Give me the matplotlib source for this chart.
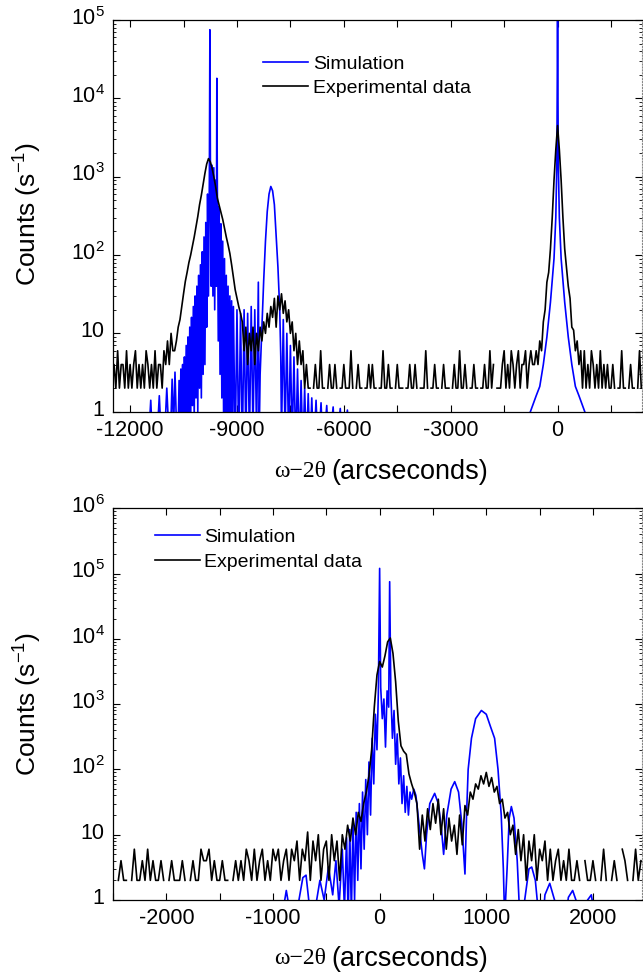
import numpy as np
import matplotlib
matplotlib.use("Agg")
import matplotlib.pyplot as plt
import matplotlib.transforms as mtransforms
from matplotlib.ticker import MultipleLocator, LogLocator, FixedLocator, FixedFormatter, NullFormatter

plt.rcParams['font.family'] = ['Liberation Sans', 'DejaVu Sans']
plt.rcParams['mathtext.fontset'] = 'custom'
plt.rcParams['mathtext.rm'] = 'Liberation Sans'
plt.rcParams['mathtext.it'] = 'Liberation Sans:italic'
plt.rcParams['mathtext.default'] = 'regular'
plt.rcParams['axes.unicode_minus'] = False

# ---- wide scan: measured counts, one point every 50 arcsec starting at -12500
exp_top_start = -12500
exp_top_step = 50
exp_top = [
    # -12500 .. -10800 background
    2, 4, 2, 6, 2, 4, 4, 2, 6, 2, 4, 2, 4, 6, 2, 4, 2, 4, 2, 6,
    4, 2, 4, 2, 6, 2, 4, 4, 2, 6, 4, 8, 4, 10, 6,
    # -10750 .. -8900 substrate-side peak
    6, 8, 12, 15, 22, 32, 46, 60, 80, 100, 130, 170, 230, 310, 440, 580, 800, 1100, 1450, 1700,
    1550, 1300, 1000, 750, 530, 430, 350, 285, 220, 170, 135, 105, 75, 52, 36, 28, 22, 18,
    # -8850 .. -8350
    14, 6, 12, 4, 10, 6, 12, 4, 10, 6, 12,
    # -8300 .. -7150 layer peak
    8, 14, 10, 18, 12, 22, 16, 28, 12, 30, 20, 32, 18, 26, 14, 20, 10, 14, 6, 10, 4, 8, 4, 6,
    # -7100 .. -1650 background
    2, 4, 2, 2, 0, 2, 4, 2, 2, 6,
    2, 2, 0, 2, 4, 2, 2, 4, 2, 0,
    2, 2, 4, 2, 2, 2, 6, 2, 0, 2,
    4, 2, 2, 0, 2, 2, 4, 2, 4, 2,
    2, 0, 2, 2, 6, 2, 2, 4, 2, 2,
    0, 2, 4, 2, 2, 2, 0, 2, 2, 4,
    2, 2, 4, 2, 0, 2, 2, 2, 6, 2,
    0, 2, 2, 4, 2, 2, 0, 2, 4, 2,
    2, 2, 0, 2, 4, 2, 2, 6, 2, 2,
    4, 2, 0, 2, 2, 4, 2, 2, 0, 2,
    2, 4, 2, 2, 6, 2, 4, 0, 2, 2,
    # -1600 .. -700
    2, 4, 6, 2, 4, 2, 6, 4, 2, 4, 6, 2, 4, 4, 6, 2, 4, 6, 4,
    # -650 .. 650 reference peak
    4, 6, 4, 8, 6, 14, 20, 45, 60, 120, 300, 900, 2200, 4500, 2200, 900, 300, 120, 70, 40,
    28, 12, 11, 6, 8, 4, 6,
    # 700 .. 1400
    2, 6, 2, 4, 2, 6, 4, 2, 4, 2, 6, 2, 4, 2, 4,
    # 1450 .. 2350
    2, 2, 4, 2, 0, 2, 2, 6, 2, 2, 0, 2, 4, 2, 2, 0, 2, 6, 2,
]

sim_top_x = [
    -12500, -11500, -11420, -11360, -11250, -11180, -11120, -11030, -10970, -10910,
    -10860, -10820, -10780, -10740, -10700,
    -10650, -10625, -10600, -10575, -10550, -10525, -10500, -10475, -10450, -10425,
    -10400, -10375, -10350, -10325, -10300, -10275, -10250, -10225, -10200, -10175,
    -10150, -10125, -10100, -10075, -10050, -10025, -10000, -9975, -9950, -9925,
    -9900, -9875, -9850, -9825, -9800, -9775, -9760, -9745, -9725, -9700,
    -9675, -9650, -9625, -9600, -9580, -9565, -9550, -9525, -9500, -9475,
    -9450, -9425, -9400, -9375, -9350, -9325, -9300, -9275, -9250, -9225,
    -9200, -9175, -9150, -9125, -9100,
    -9050, -9000, -8950, -8900, -8850, -8800, -8750, -8700, -8650, -8600,
    -8550, -8500, -8450, -8400, -8375,
    -8350, -8300, -8250, -8200, -8150, -8100, -8050, -8000, -7950, -7900,
    -7850, -7800, -7770, -7750,
    -7700, -7650, -7600, -7550, -7500, -7450, -7400, -7350, -7300, -7250,
    -7200, -7150, -7100, -7050, -7000, -6950, -6900, -6850, -6780, -6720,
    -6640, -6580, -6480, -6420, -6300, -6240, -6100, -6040, -5900, -5850,
    -1000, -800, -700, -600, -500, -400, -300, -200, -100, -50,
    -20, -8, 0, 8, 20, 50, 100, 200, 300, 400,
    500, 600, 700, 800, 1000, 2400,
]
sim_top_y = [
    0.2, 0.3, 1.4, 0.3, 0.4, 1.6, 0.4, 0.5, 2.0, 0.5,
    0.6, 2.6, 0.6, 3.2, 0.7,
    0.6, 2.5, 0.5, 3.5, 0.7, 4, 0.5, 5, 0.8, 7,
    0.6, 9, 1, 12, 0.7, 16, 1.2, 22, 0.8, 30,
    1.5, 40, 1, 55, 2, 75, 1.5, 110, 3, 170,
    4, 260, 12, 600, 30, 900, 75000, 1200, 40, 1400,
    30, 1300, 20, 900, 40, 18000, 600, 8, 420, 3,
    250, 1.5, 150, 0.8, 90, 0.6, 55, 0.5, 40, 0.4,
    30, 0.4, 26, 0.3, 22,
    0.3, 20, 0.3, 18, 0.3, 20, 0.4, 18, 0.4, 22,
    0.5, 20, 0.5, 45, 0.5,
    3, 12, 47, 150, 360, 600, 750, 660, 440, 180,
    70, 20, 5, 0.5,
    15, 0.5, 10, 0.4, 7, 0.4, 5, 0.3, 3.5, 0.3,
    2.5, 0.3, 2, 0.3, 1.7, 0.3, 1.5, 0.3, 1.4, 0.3,
    1.3, 0.3, 1.2, 0.3, 1.15, 0.3, 1.1, 0.3, 1.05, 0.3,
    0.3, 0.9, 1.2, 1.6, 2.1, 4, 9, 25, 90, 300,
    1500, 20000, 300000, 20000, 1500, 300, 90, 25, 9, 4,
    2.1, 1.6, 1.2, 0.9, 0.3, 0.1,
]

# ---- narrow scan: measured counts, one point every 25 arcsec starting at -2450
exp_bot_start = -2450
exp_bot_step = 25
exp_bot = [
    # -2450 .. -1325
    2, 4, 2, 2, 0, 2, 6, 2, 2, 4,
    2, 6, 2, 4, 2, 2, 4, 2, 0, 2,
    4, 2, 2, 2, 4, 2, 0, 2, 4, 2,
    2, 6, 4, 4, 6, 2, 4, 2, 2, 4,
    2, 2, 0, 2, 4, 2,
    # -1300 .. -800
    4, 2, 6, 4, 2, 6, 2, 4, 6, 2, 4, 2, 6, 4, 6, 2, 4, 6, 2, 6, 4,
    # -775 .. -350
    8, 2, 6, 4, 11, 2, 8, 4, 10, 2, 6, 8, 2, 10, 4, 8, 2, 10,
    # -325 .. -100
    6, 14, 8, 18, 10, 22, 16, 30, 45, 80,
    # -75 .. 350 double peak
    200, 900, 2800, 4500, 3700, 5500, 9000, 10300, 6000, 2200,
    550, 230, 190, 170, 85, 60, 45, 30,
    # 375 .. 800
    6, 20, 8, 25, 12, 30, 15, 35, 10, 25, 6, 18, 8, 14, 5, 20, 7, 28,
    # 825 .. 1175 layer peak
    20, 45, 35, 60, 50, 80, 60, 90, 55, 75, 45, 55, 30, 35, 18,
    # 1200 .. 1800
    22, 10, 14, 5, 12, 4, 10, 2, 8, 4, 10, 2, 6, 4, 8, 2, 6, 2, 4, 6,
    2, 4, 2, 6, 2,
    # 1825 .. 2450
    2, 4, 2, 0, 4, 2, 2, 4, 2, 0, 2, 6, 2, 0, 2, 4, 2, 0, 6, 4,
    2, 0, 2, 6, 2, 4,
]

sim_bot_x = [
    -2500, -1000, -920, -875, -830, -780, -720, -690, -650, -600,
    -560, -520, -480, -440, -410, -380, -350, -330, -310, -295,
    -280, -265, -250, -235, -220, -205, -190, -175, -160, -145,
    -130, -115, -100, -85, -70, -55, -40, -25, -12, 0,
    10, 25, 40, 55, 70, 85, 94, 105, 120, 135,
    150, 165, 180, 195, 210, 225, 240, 255, 270, 285,
    300, 320, 340, 360, 380, 400, 420, 440, 470, 516,
    550, 580, 600, 630, 670, 704, 740, 770, 800, 815,
    830, 861, 900, 954, 1000, 1040, 1078, 1110, 1140, 1160,
    1172, 1195, 1215, 1235, 1260, 1290, 1315, 1330, 1360, 1400,
    1426, 1460, 1490, 1510, 1550, 1595, 1640, 1680, 1720, 1770,
    1810, 1850, 1900, 1950, 1985, 2020, 2500,
]
sim_bot_y = [
    0.1, 0.3, 0.5, 1.4, 0.5, 0.6, 2.2, 2.4, 0.6, 0.8,
    2.0, 1.0, 3.2, 1.2, 4, 0.8, 6, 0.7, 9, 0.5,
    12, 0.6, 16, 1, 22, 2, 30, 3, 45, 6,
    70, 10, 130, 20, 300, 60, 700, 200, 1500, 120000,
    1800, 600, 1200, 220, 1600, 900, 75000, 1500, 300, 800,
    120, 350, 60, 150, 30, 80, 22, 55, 20, 45,
    35, 50, 40, 20, 10, 5, 3, 10, 30, 43,
    30, 12, 5, 20, 50, 65, 45, 15, 2.5, 20,
    100, 300, 600, 800, 700, 450, 300, 100, 20, 3,
    0.5, 3, 18, 27, 18, 4, 0.5, 0.2, 1, 3,
    3.2, 2, 0.6, 0.2, 1.2, 1.8, 1, 0.3, 0.3, 1.1,
    1.4, 0.9, 0.3, 1.0, 1.2, 0.5, 0.1,
]

W, H = 643, 975
fig = plt.figure(figsize=(W / 100, H / 100), dpi=100)


def px_axes(left, top, right, bottom):
    return fig.add_axes([left / W, 1 - bottom / H, (right - left) / W, (bottom - top) / H])


def draw_panel(ax, exp_y, start, step, sx, sy, xlim, ymax, xmajor, legend_xy):
    ex = start + step * np.arange(len(exp_y))
    ax.set_yscale('log', nonpositive='mask')
    ax.plot(sx, sy, color='#0000ff', lw=1.2, label='Simulation', zorder=2)
    ax.plot(ex, exp_y, color='black', lw=1.2, label='Experimental data', zorder=3)
    ax.set_xlim(*xlim)
    ax.set_ylim(1, ymax)

    decades = [10 ** k for k in range(int(np.log10(ymax)) + 1)]
    labels = ['1', '10'] + [r'$10^{%d}$' % k for k in range(2, len(decades))]
    ax.yaxis.set_major_locator(FixedLocator(decades))
    ax.yaxis.set_major_formatter(FixedFormatter(labels))
    ax.yaxis.set_minor_locator(LogLocator(base=10, subs=np.arange(2, 10), numticks=20))
    ax.yaxis.set_minor_formatter(NullFormatter())
    ax.xaxis.set_major_locator(MultipleLocator(xmajor))
    ax.xaxis.set_minor_locator(MultipleLocator(xmajor / 2))

    ax.tick_params(which='both', direction='in', top=True, right=True, labelsize=15.5)
    ax.tick_params(axis='y', which='major', length=5, width=0.8, pad=6)
    ax.tick_params(axis='y', which='minor', length=2.5, width=0.6)
    ax.tick_params(axis='x', which='both', length=5, width=0.8, pad=6)
    for side in ['left', 'bottom', 'top']:
        ax.spines[side].set_linewidth(0.9)
    ax.spines['right'].set_linestyle(':')
    ax.spines['right'].set_color('#888888')

    # the decade labels sit a little above their ticks
    lift = mtransforms.ScaledTranslation(0, 3 / 72, fig.dpi_scale_trans)
    for lab in ax.get_yticklabels():
        lab.set_transform(lab.get_transform() + lift)

    ax.legend(loc='upper left', bbox_to_anchor=legend_xy, frameon=False, fontsize=14,
              handlelength=2.3, handletextpad=0.25, labelspacing=0.35,
              borderpad=0, borderaxespad=0)


ax1 = px_axes(113, 20, 642, 411.7)
draw_panel(ax1, exp_top, exp_top_start, exp_top_step, sim_top_x, sim_top_y,
           (-12480, 2370), 1e5, 3000, (0.284, 0.91))

ax2 = px_axes(113, 508.3, 642, 900)
draw_panel(ax2, exp_bot, exp_bot_start, exp_bot_step, sim_bot_x, sim_bot_y,
           (-2500, 2460), 1e6, 1000, (0.079, 0.948))

# axis titles
for ax, ylab_y, xlab_y in [(ax1, 214, 472), (ax2, 704, 959)]:
    fig.text(28 / W, 1 - ylab_y / H, r'Counts (s$^{-1}$)', rotation=90,
             ha='center', va='center', fontsize=19)
    fig.text(326 / W, 1 - xlab_y / H, 'ω\u22122θ', ha='right', va='center',
             fontsize=17, family=['Liberation Serif', 'DejaVu Serif'])
    fig.text(331 / W, 1 - xlab_y / H, '(arcseconds)', ha='left', va='center',
             fontsize=19.5)

fig.savefig('out.png', dpi=100)
